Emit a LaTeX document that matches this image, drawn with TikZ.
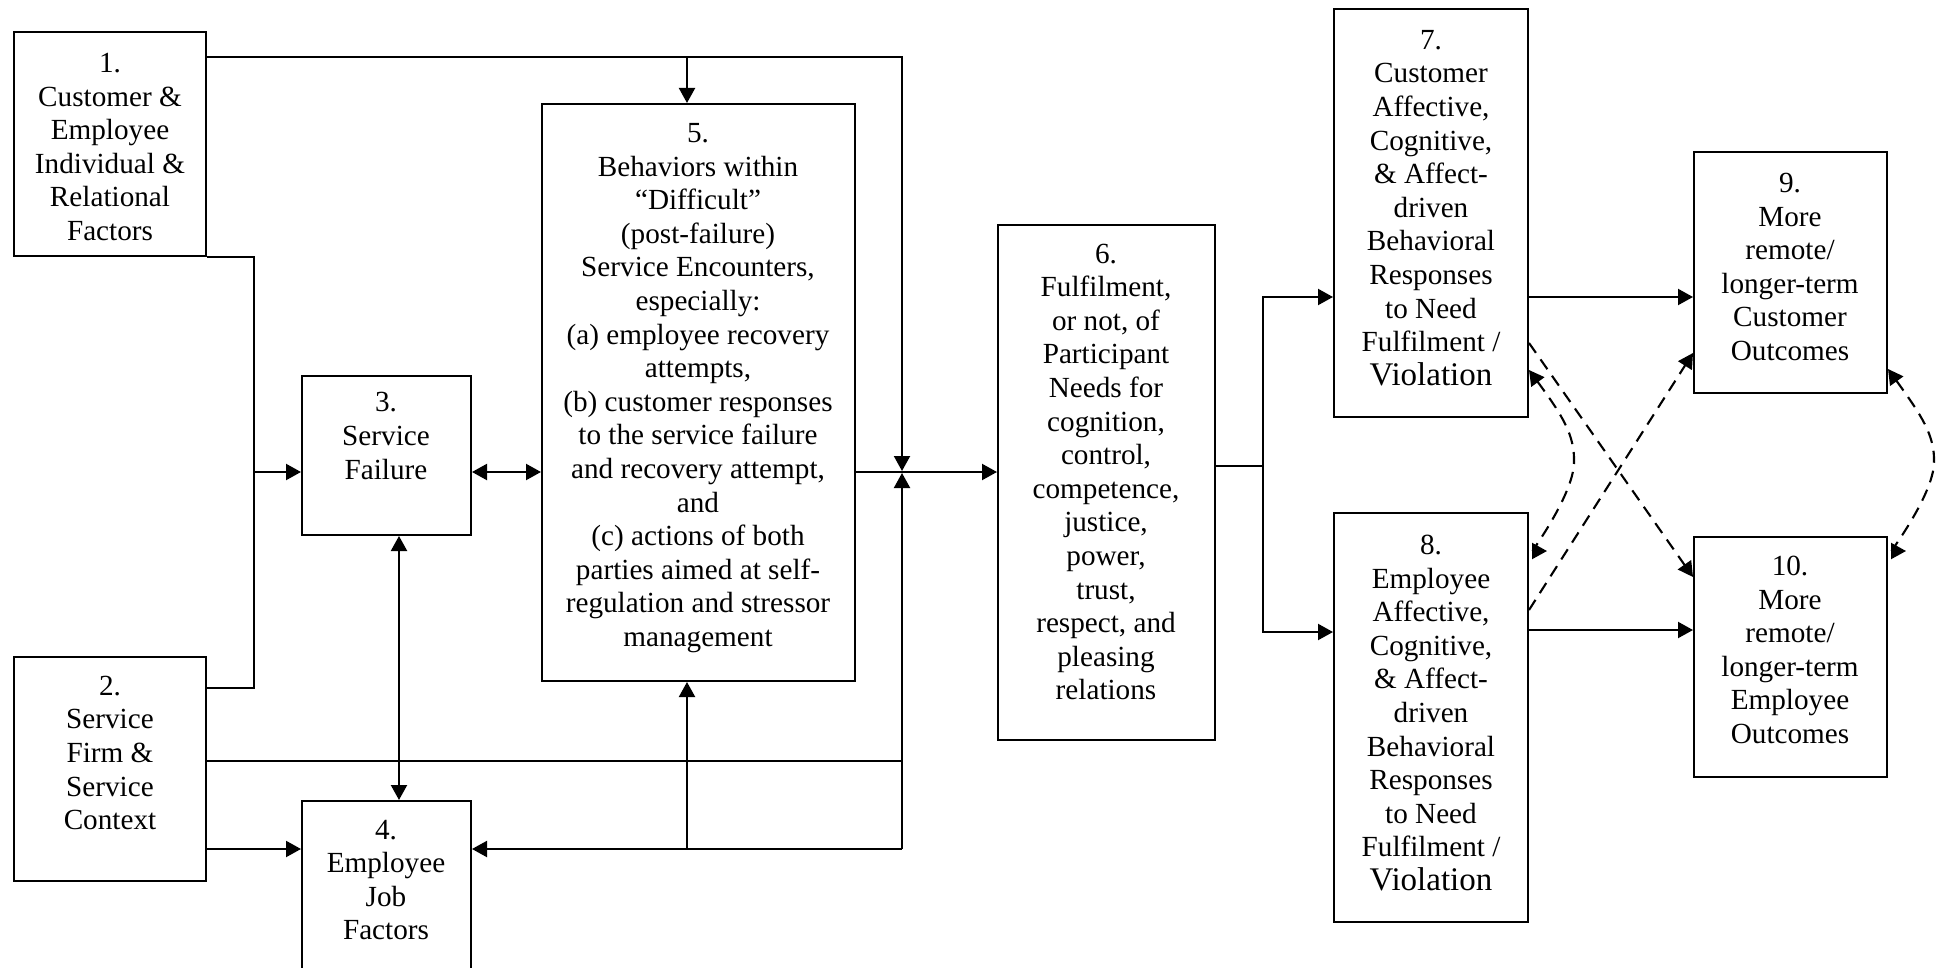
\documentclass[tikz,border=0pt]{standalone}
\usepackage{fontspec}
\setmainfont{Liberation Serif}
\usetikzlibrary{arrows.meta,fit}
\begin{document}
\begin{tikzpicture}[x=0.5pt,y=-0.5pt,
  box/.style={draw, line width=1pt, inner sep=0pt},
  txt/.style={align=center, inner sep=0pt, font=\fontsize{14.6}{16.8}\selectfont},
  tip/.style={},
  line/.style={line width=1.05pt},
  arr/.style={line width=1.05pt, -{Triangle[length=7.5pt,width=8pt]}},
  darr/.style={line width=1.05pt, {Triangle[length=7.5pt,width=8pt]}-{Triangle[length=7.5pt,width=8pt]}},
  dsh/.style={line width=1.05pt, dash pattern=on 6pt off 4pt}]
\useasboundingbox (0,0) rectangle (1943,968);
\fill[white] (0,0) rectangle (1943,968);
\clip (0,0) rectangle (1943,968);

% boxes
\node[box, fit={(14,32) (206,256)}] (b1) {};
\node[box, fit={(14,657) (206,881)}] (b2) {};
\node[box, fit={(302,376) (471,535)}] (b3) {};
\node[box, fit={(302,801) (471,1010)}] (b4) {};
\node[box, fit={(542,104) (855,681)}] (b5) {};
\node[box, fit={(998,225) (1215,740)}] (b6) {};
\node[box, fit={(1334,9) (1528,417)}] (b7) {};
\node[box, fit={(1334,513) (1528,922)}] (b8) {};
\node[box, fit={(1694,152) (1887,393)}] (b9) {};
\node[box, fit={(1694,537) (1887,777)}] (b10) {};

% texts
\node[txt] (t1) at (110,147) {1.\\Customer \&\\Employee\\Individual \&\\Relational\\Factors};
\node[txt] (t2) at (110,753) {2.\\Service\\Firm \&\\Service\\Context};
\node[txt] (t3) at (386,436) {3.\\Service\\Failure};
\node[txt] (t4) at (386,880) {4.\\Employee\\Job\\Factors};
\node[txt] (t5) at (698,388) {5.\\Behaviors within\\“Difficult”\\(post-failure)\\Service Encounters,\\especially:\\(a) employee recovery\\attempts,\\(b) customer responses\\to the service failure\\and recovery attempt,\\and\\(c) actions of both\\parties aimed at self-\\regulation and stressor\\management};
\node[txt] (t6) at (1106,472) {6.\\Fulfilment,\\or not, of\\Participant\\Needs for\\cognition,\\control,\\competence,\\justice,\\power,\\trust,\\respect, and\\pleasing\\relations};
\node[txt] (t7) at (1431,208) {7.\\Customer\\Affective,\\Cognitive,\\\& Affect-\\driven\\Behavioral\\Responses\\to Need\\Fulfilment /\\{\fontsize{16.5}{16.8}\selectfont Violation}};
\node[txt] (t8) at (1431,713) {8.\\Employee\\Affective,\\Cognitive,\\\& Affect-\\driven\\Behavioral\\Responses\\to Need\\Fulfilment /\\{\fontsize{16.5}{16.8}\selectfont Violation}};
\node[txt] (t9) at (1790,267) {9.\\More\\remote/\\longer-term\\Customer\\Outcomes};
\node[txt] (t10) at (1790,650) {10.\\More\\remote/\\longer-term\\Employee\\Outcomes};

% helper coordinates
\coordinate (ytop) at (0,57);
\coordinate (ymid) at (0,472);
\coordinate (y2a) at (0,761);
\coordinate (ybot) at (0,849);
\coordinate (y1b) at (0,688);
\coordinate (xa) at (687,0);
\coordinate (xl) at (254,0);
\coordinate (xv) at (399,0);
\coordinate (jn) at (902,472);
\coordinate (xs) at (1263,0);
\coordinate (y6) at (0,466);
\coordinate (y7) at (0,297);
\coordinate (y8) at (0,632);

% left part connectors
\draw[arr, shorten >=0.5pt] (b1.east |- ytop) -- (jn |- ytop) -- (jn);
\draw[arr] (xa |- ytop) -- (xa |- b5.north);
\draw[line] (b1.south east) -- (xl |- b1.south) -- (xl |- y1b) -- (b2.east |- y1b);
\draw[arr] (xl |- ymid) -- (b3.west |- ymid);
\draw[darr] (b3.east |- ymid) -- (b5.west |- ymid);
\draw[darr] (xv |- b3.south) -- (xv |- b4.north);
\draw[arr] (b5.east |- ymid) -- (b6.west |- ymid);
\draw[line] (b2.east |- y2a) -- (jn |- y2a);
\draw[arr, shorten >=0.5pt] (jn |- ybot) -- (jn);
\draw[arr] (jn |- ybot) -- (b4.east |- ybot);
\draw[arr] (xa |- ybot) -- (xa |- b5.south);
\draw[arr] (b2.east |- ybot) -- (b4.west |- ybot);

% right part connectors
\draw[line] (b6.east |- y6) -- (xs |- y6);
\draw[arr] (xs |- y6) -- (xs |- y7) -- (b7.west |- y7);
\draw[arr] (xs |- y6) -- (xs |- y8) -- (b8.west |- y8);
\draw[arr] (b7.east |- y7) -- (b9.west |- y7);
\draw[arr] (b8.east |- 0,630) -- (b10.west |- 0,630);

% dashed connectors
\draw[dsh, -{Triangle[length=7.5pt,width=8pt]}] (b7.east |- 0,343) -- (b10.west |- 0,577);
\draw[dsh, -{Triangle[length=7.5pt,width=8pt]}] (b8.east |- 0,610) -- (b9.west |- 0,353);
\coordinate (e8) at (1547,551);
\coordinate (e10) at (1906,551);
\draw[dsh, {Triangle[length=7.5pt,width=8pt]}-{Triangle[length=7.5pt,width=8pt]}]
  (b7.east |- 0,370) .. controls (1562,415) and (1575,435) .. (1574,463)
  .. controls (1573,495) and (1532,551) .. (e8);
\draw[dsh, {Triangle[length=7.5pt,width=8pt]}-{Triangle[length=7.5pt,width=8pt]}]
  (b9.east |- 0,369) .. controls (1921,415) and (1935,435) .. (1934,463)
  .. controls (1933,495) and (1891,551) .. (e10);
\end{tikzpicture}
\end{document}
